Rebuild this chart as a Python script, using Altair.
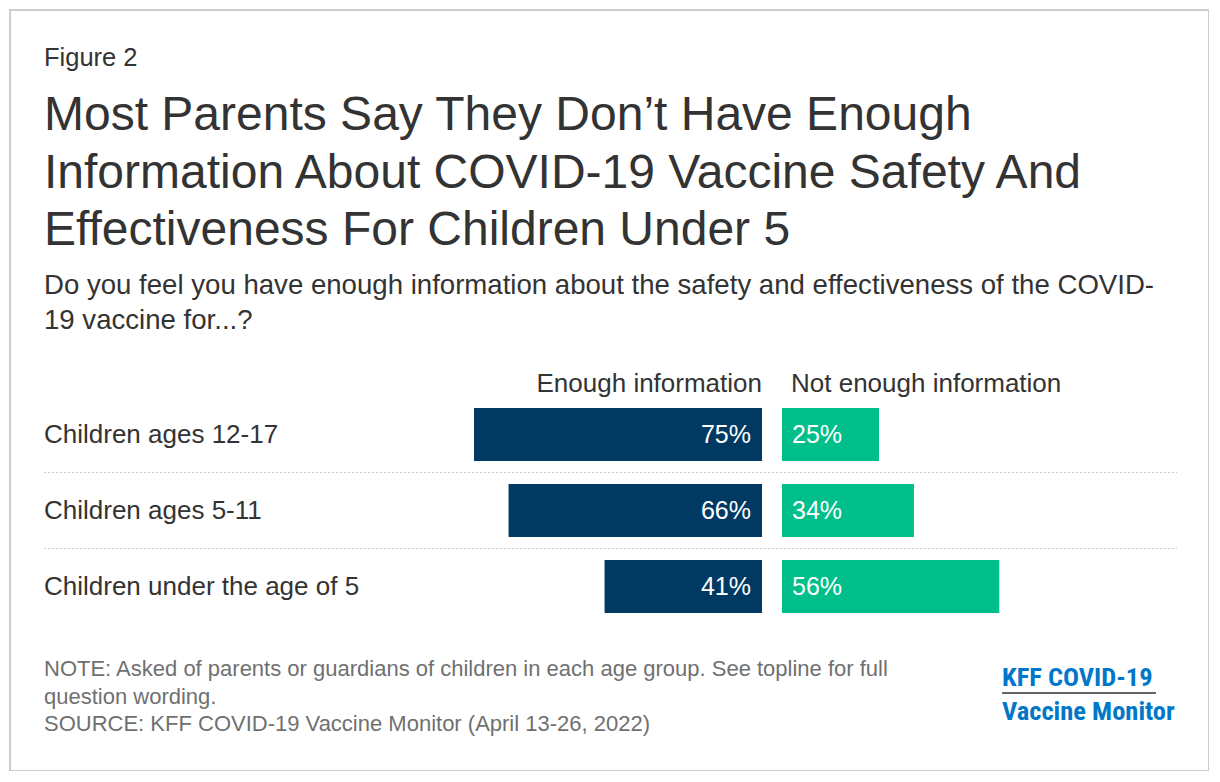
import altair as alt
import pandas as pd

categories = ["Children ages 12-17", "Children ages 5-11", "Children under the age of 5"]
enough = [75, 66, 41]
not_enough = [25, 34, 56]

series_names = ["Enough information", "Not enough information"]
fig_label = "Figure 2"
title_lines = [
    "Most Parents Say They Don\u2019t Have Enough",
    "Information About COVID-19 Vaccine Safety And",
    "Effectiveness For Children Under 5",
]
subtitle_lines = [
    "Do you feel you have enough information about the safety and effectiveness of the COVID-",
    "19 vaccine for...?",
]
note_lines = [
    "NOTE: Asked of parents or guardians of children in each age group. See topline for full",
    "question wording.",
    "SOURCE: KFF COVID-19 Vaccine Monitor (April 13-26, 2022)",
]
logo_lines = ["KFF COVID-19", "Vaccine Monitor"]

NAVY = "#003a63"
GREEN = "#00bf8a"
DARK = "#333333"
GRAY = "#707070"
BLUE = "#0077c8"
FONT = "Liberation Sans, Arial, Helvetica, sans-serif"

df = pd.DataFrame({"cat": categories, "enough": enough, "not_enough": not_enough})
one = alt.Data(values=[{"k": 1}])

left_scale = alt.Scale(domain=[0, 100], range=[752, 368])
right_scale = alt.Scale(domain=[0, 100], range=[772, 1160])
y_scale = alt.Scale(domain=categories, range=[386.5, 614.5], paddingInner=0.3, paddingOuter=0.15)

Y = alt.Y("cat:N", scale=y_scale, axis=None)

base = alt.Chart(df).transform_calculate(zero="0")

left_bars = base.mark_bar(color=NAVY).encode(
    x=alt.X("enough:Q", scale=left_scale, axis=None),
    x2="zero:Q",
    y=Y,
)
right_bars = base.mark_bar(color=GREEN).encode(
    x=alt.X("not_enough:Q", scale=right_scale, axis=None),
    x2="zero:Q",
    y=Y,
)
left_labels = base.transform_calculate(lab="datum.enough + '%'").mark_text(
    align="right", baseline="middle", dx=-11, color="white", fontSize=25, font=FONT
).encode(
    x=alt.X("zero:Q", scale=left_scale, axis=None),
    y=Y,
    text="lab:N",
)
right_labels = base.transform_calculate(lab="datum.not_enough + '%'").mark_text(
    align="left", baseline="middle", dx=10, color="white", fontSize=25, font=FONT
).encode(
    x=alt.X("zero:Q", scale=right_scale, axis=None),
    y=Y,
    text="lab:N",
)
cat_labels = base.mark_text(
    align="left", baseline="middle", color=DARK, fontSize=26, font=FONT
).encode(x=alt.value(34), y=Y, text="cat:N")


def txt(lines, x, y, size, color, align="left", weight="normal", lh=None, font=FONT):
    kw = dict(align=align, baseline="alphabetic", fontSize=size, color=color, font=font, fontWeight=weight)
    if lh is not None:
        kw["lineHeight"] = lh
    return alt.Chart(one).mark_text(**kw).encode(
        x=alt.value(x), y=alt.value(y), text=alt.value(lines)
    )


fig_t = txt(fig_label, 34, 56, 25.5, DARK)
title_t = txt(title_lines, 34, 120, 48, DARK, lh=57.5)
sub_t = txt(subtitle_lines, 34, 284, 27.6, DARK, lh=35)
h1 = txt(series_names[0], 752, 382, 26, DARK, align="right")
h2 = txt(series_names[1], 781, 382, 26, DARK)
notes_t = txt(note_lines, 34, 666, 22, GRAY, lh=27.5)
LOGO_FONT = "Liberation Sans Narrow, Roboto Condensed, DejaVu Sans Condensed, Roboto, sans-serif"
logo1 = txt(logo_lines[0], 992, 676, 26.5, BLUE, weight="bold", font=LOGO_FONT)
logo2 = txt(logo_lines[1], 992, 710, 26.5, BLUE, weight="bold", font=LOGO_FONT)
logo_rule = alt.Chart(one).mark_rule(color=DARK, strokeWidth=1.5).encode(
    x=alt.value(992), x2=alt.value(1146), y=alt.value(683)
)
sep1 = alt.Chart(one).mark_rule(color="#c8c8c8", strokeWidth=1, strokeDash=[2, 2]).encode(
    x=alt.value(34), x2=alt.value(1167), y=alt.value(462.5)
)
sep2 = alt.Chart(one).mark_rule(color="#c8c8c8", strokeWidth=1, strokeDash=[2, 2]).encode(
    x=alt.value(34), x2=alt.value(1167), y=alt.value(538.5)
)

chart = alt.layer(
    sep1, sep2,
    left_bars, right_bars, left_labels, right_labels, cat_labels,
    fig_t, title_t, sub_t, h1, h2, notes_t, logo1, logo2, logo_rule,
).resolve_scale(x="independent").properties(
    width=1199,
    height=761,
    padding={"left": 2, "top": 2, "right": 0, "bottom": 0},
    autosize=alt.AutoSizeParams(type="none"),
    background="white",
).configure_view(stroke="#cccccc", strokeWidth=2)

chart.save("out.html", embed_options={"renderer": "svg", "actions": False})
